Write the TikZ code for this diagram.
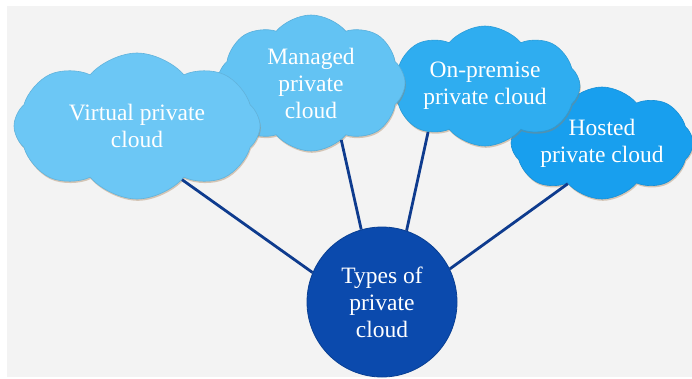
\documentclass[tikz,border=0pt]{standalone}
\usepackage{fontspec}
\setmainfont{Liberation Serif}
\usetikzlibrary{shapes.symbols,shadows}
\definecolor{bggray}{HTML}{F3F3F3}
\definecolor{virtblue}{HTML}{6CC7F5}
\definecolor{mangblue}{HTML}{63C3F3}
\definecolor{onprblue}{HTML}{2FADF0}
\definecolor{hostblue}{HTML}{189FEE}
\definecolor{hubblue}{HTML}{0B4AAD}
\definecolor{linkblue}{HTML}{0E3B8E}

\begin{document}
\begin{tikzpicture}[x=1pt,y=-1pt,
  cloudbox/.style={cloud, cloud puffs=8, cloud puff arc=100, cloud ignores aspect,
    line width=0.6pt, text=white, align=center, inner sep=0pt,
    font=\fontsize{23.5}{27}\selectfont,
    drop shadow={shadow xshift=0.8pt, shadow yshift=-1.8pt, opacity=0.4, fill=brown!60!gray}},
  hub/.style={circle, fill=hubblue, draw=hubblue!85!black, line width=0.8pt, text=white,
    align=center, minimum size=150pt, inner sep=0pt, font=\fontsize{23.5}{27}\selectfont},
  link/.style={draw=linkblue, line width=2.8pt}]
\useasboundingbox (0,0) rectangle (692,378);
\fill[bggray] (7,6) rectangle (692,377);

\node[cloudbox, fill=hostblue, draw=hostblue!90!black, minimum width=182pt, minimum height=112pt] (host) at (602,143) {Hosted\\private cloud};
\node[cloudbox, fill=onprblue, draw=onprblue!90!black, minimum width=190pt, minimum height=120pt] (onpr) at (485,86) {On-premise\\private cloud};
\node[cloudbox, fill=mangblue, draw=mangblue!90!black, minimum width=188pt, minimum height=136pt] (mang) at (311,83) {Managed\\private\\cloud};
\node[cloudbox, fill=virtblue, draw=virtblue!90!black, minimum width=246pt, minimum height=146pt] (virt) at (137,126) {Virtual private\\cloud};

\node[hub] (types) at (382,302) {Types of\\private\\cloud};

\draw[link] (virt.-50) -- (types.157);
\draw[link] (mang.-62) -- (types.106);
\draw[link] (onpr.-141) -- (types.71);
\draw[link] (host.-130) -- (types.26);
\end{tikzpicture}
\end{document}
